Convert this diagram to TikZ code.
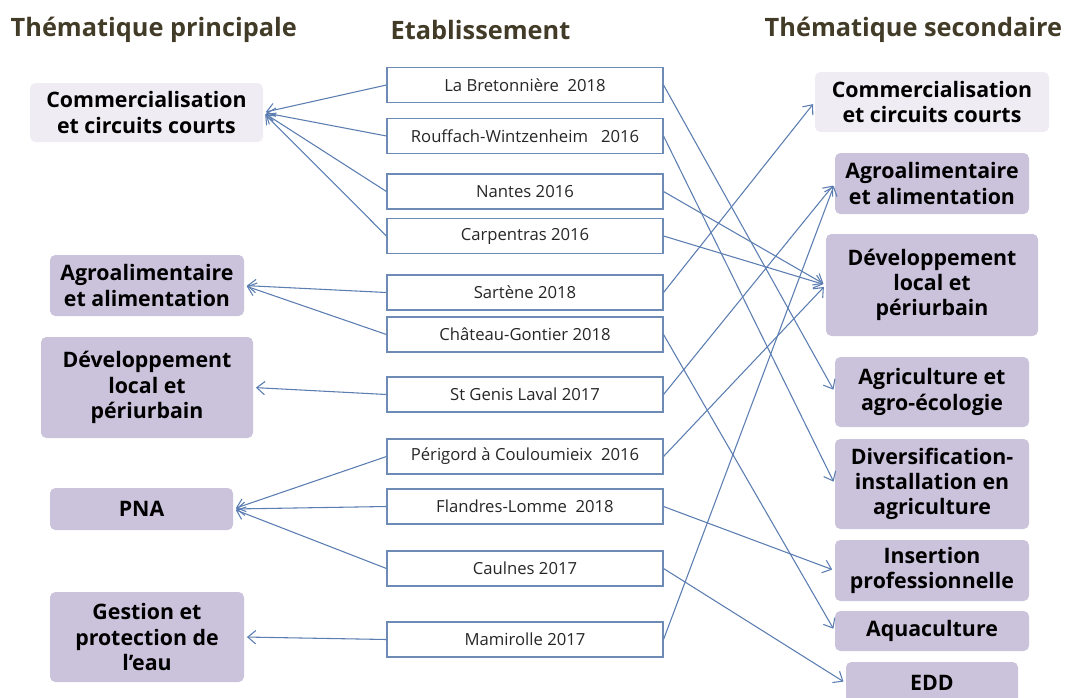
\documentclass[tikz,border=0pt]{standalone}
\usepackage{fontspec}
\setmainfont{Open Sans}
\usetikzlibrary{arrows.meta}
\definecolor{lienbleu}{HTML}{5B7DB1}
\definecolor{mauve}{HTML}{CBC2DB}
\definecolor{mauveclair}{HTML}{EFECF4}
\definecolor{titrebrun}{HTML}{423B28}
\definecolor{cadre}{HTML}{6E8BB5}
\begin{document}
\begin{tikzpicture}[x=0.75pt, y=-0.75pt,
  theme/.style={fill=mauve, rounded corners=4pt, align=center, inner sep=0pt, font=\bfseries\fontsize{16}{19}\selectfont},
  themeclair/.style={theme, fill=mauveclair},
  etab/.style={draw=cadre, line width=0.8pt, minimum width=207pt, minimum height=26.25pt, inner sep=0pt, text=black!85, font=\fontsize{12.5}{14}\selectfont},
  entete/.style={anchor=west, text=titrebrun, font=\bfseries\fontsize{19}{22}\selectfont},
  lien/.style={draw=lienbleu, line width=0.8pt, -{Straight Barb[length=6pt,width=10pt]}, shorten >=2pt}]
\useasboundingbox (0,0) rectangle (1082,697);
% en-tetes
\node[entete] (h1) at (6,30){Thématique principale};
\node[entete] (h2) at (386,30){Etablissement};
\node[entete] (h3) at (760,30){Thématique secondaire};
% thematiques principales
\node[themeclair, minimum width=174.75pt, minimum height=44.25pt] (cpL) at (146.5,112.5){Commercialisation\\et circuits courts};
\node[theme, minimum width=145.5pt, minimum height=45.75pt] (agL) at (147,285.5){Agroalimentaire\\et alimentation};
\node[theme, minimum width=159pt, minimum height=75.75pt] (dvL) at (147,387.5){Développement\\local et\\périurbain};
\node[theme, minimum width=137.25pt, minimum height=31.5pt] (pnaL) at (141.5,509){PNA};
\node[theme, minimum width=145.5pt, minimum height=67.5pt] (geL) at (147,637){Gestion et\\protection de\\l’eau};
% etablissements
\node[etab] (e1) at (525,85){La Bretonnière~~2018};
\node[etab] (e2) at (525,136){Rouffach-Wintzenheim~~~2016};
\node[etab] (e3) at (525,191.5){Nantes 2016};
\node[etab] (e4) at (525,236){Carpentras 2016};
\node[etab] (e5) at (525,292.5){Sartène 2018};
\node[etab] (e6) at (525,334.5){Château-Gontier 2018};
\node[etab] (e7) at (525,394.5){St Genis~Laval 2017};
\node[etab] (e8) at (525,456.5){Périgord~à Couloumieix~~2016};
\node[etab] (e9) at (525,506.5){Flandres-Lomme~~2018};
\node[etab] (e10) at (525,568.5){Caulnes 2017};
\node[etab] (e11) at (525,639.5){Mamirolle 2017};
% thematiques secondaires
\node[themeclair, minimum width=175.5pt, minimum height=45pt] (cpR) at (932,102){Commercialisation\\et circuits courts};
\node[theme, minimum width=145.5pt, minimum height=45.75pt] (agR) at (932,183.5){Agroalimentaire\\et alimentation};
\node[theme, minimum width=159pt, minimum height=76.5pt] (dvR) at (932,285){Développement\\local et\\périurbain};
\node[theme, minimum width=145.5pt, minimum height=52.5pt] (acR) at (932,392){Agriculture et\\agro-écologie};
\node[theme, minimum width=145.5pt, minimum height=67.5pt] (dsR) at (932,484){Diversification-\\installation en\\agriculture};
\node[theme, minimum width=145.5pt, minimum height=45.75pt] (isR) at (932,570.5){Insertion\\professionnelle};
\node[theme, minimum width=145.5pt, minimum height=30pt] (aqR) at (932,631){Aquaculture};
\node[theme, minimum width=129pt, minimum height=31.5pt] (eddR) at (932,683){EDD};
% vers la gauche
\draw[lien] (e1.west) -- (cpL.east);
\draw[lien] (e2.west) -- (cpL.east);
\draw[lien] (e3.west) -- (cpL.east);
\draw[lien] (e4.west) -- (cpL.east);
\draw[lien] (e5.west) -- (agL.east);
\draw[lien] (e6.west) -- (agL.east);
\draw[lien] (e7.west) -- (dvL.east);
\draw[lien] (e8.west) -- (pnaL.east);
\draw[lien] (e9.west) -- (pnaL.east);
\draw[lien] (e10.west) -- (pnaL.east);
\draw[lien] (e11.west) -- (geL.east);
% vers la droite
\draw[lien] (e1.east) -- (acR.west);
\draw[lien] (e2.east) -- (dsR.west);
\draw[lien] (e3.east) -- (dvR.west);
\draw[lien] (e4.east) -- (dvR.west);
\draw[lien] (e5.east) -- (cpR.west);
\draw[lien] (e6.east) -- (aqR.west);
\draw[lien] (e7.east) -- (agR.west);
\draw[lien] (e8.east) -- (dvR.west);
\draw[lien] (e9.east) -- (isR.west);
\draw[lien] (e10.east) -- (eddR.west);
\draw[lien] (e11.east) -- (agR.west);
\end{tikzpicture}
\end{document}
